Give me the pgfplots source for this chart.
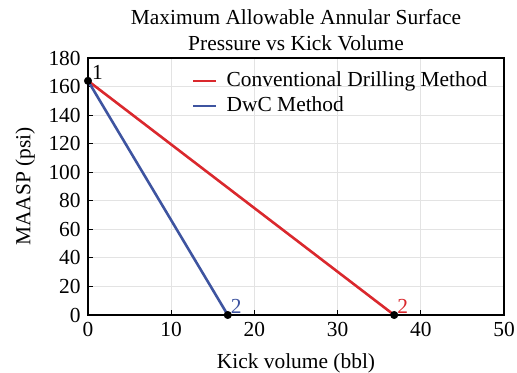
\documentclass[border=0pt]{standalone}
\usepackage{pgfplots}
\pgfplotsset{compat=1.18}
\usepackage{fontspec}
\setmainfont{Liberation Serif}
\usetikzlibrary{calc}
\definecolor{cred}{RGB}{218,40,45}
\definecolor{cblue}{RGB}{62,84,160}
\newcommand{\chartfont}{\fontsize{21.5}{25.5}\selectfont}
\begin{document}
\chartfont
\begin{tikzpicture}
\begin{axis}[
  scale only axis, width=416bp, height=257bp,
  xmin=0, xmax=50, ymin=0, ymax=180,
  xtick={0,10,...,50}, ytick={0,20,...,180},
  grid=major, grid style={gray!22, line width=0.8pt},
  axis line style={black, line width=1.3pt},
  tick style={black, line width=1pt}, tick align=inside, major tick length=5bp,
  xtick pos=bottom, ytick pos=left,
  /pgf/number format/assume math mode=true,
  ticklabel style={font=\chartfont},
  label style={font=\chartfont},
  xlabel={Kick volume (bbl)}, ylabel={MAASP (psi)},
  xlabel style={yshift=-2bp},
  ylabel style={yshift=-1bp},
  title={Maximum Allowable Annular Surface\\Pressure vs Kick Volume},
  title style={align=center, font=\chartfont, yshift=-6bp},
  legend style={draw=none, fill=none, at={(0.25,0.955)}, anchor=north west,
    font=\chartfont, row sep=3pt, column sep=7bp, inner sep=0pt},
  legend cell align=left,
  legend image code/.code={\draw[#1, line width=2.5pt] (0bp,0bp) -- (23bp,0bp);},
]
\addplot[cred, line width=2.6pt] coordinates {(0,164) (36.8,0)};
\addlegendentry{Conventional Drilling Method}
\addplot[cblue, line width=2.6pt] coordinates {(0,164) (16.8,0)};
\addlegendentry{DwC Method}
\addplot[only marks, mark=*, mark size=3.8pt, black, forget plot] coordinates {(0,164) (16.8,0) (36.8,0)};
\node[anchor=south west, inner sep=1pt, xshift=3bp, black] at (axis cs:0,164) {1};
\node[anchor=south west, inner sep=1pt, xshift=2bp, cblue] at (axis cs:16.8,0) {2};
\node[anchor=south west, inner sep=1pt, xshift=2bp, cred] at (axis cs:36.8,0) {2};
\end{axis}
\pgfresetboundingbox
\path[use as bounding box] ($(current axis.south west)+(-88bp,-58bp)$) rectangle ++(517bp,373bp);
\end{tikzpicture}
\end{document}
